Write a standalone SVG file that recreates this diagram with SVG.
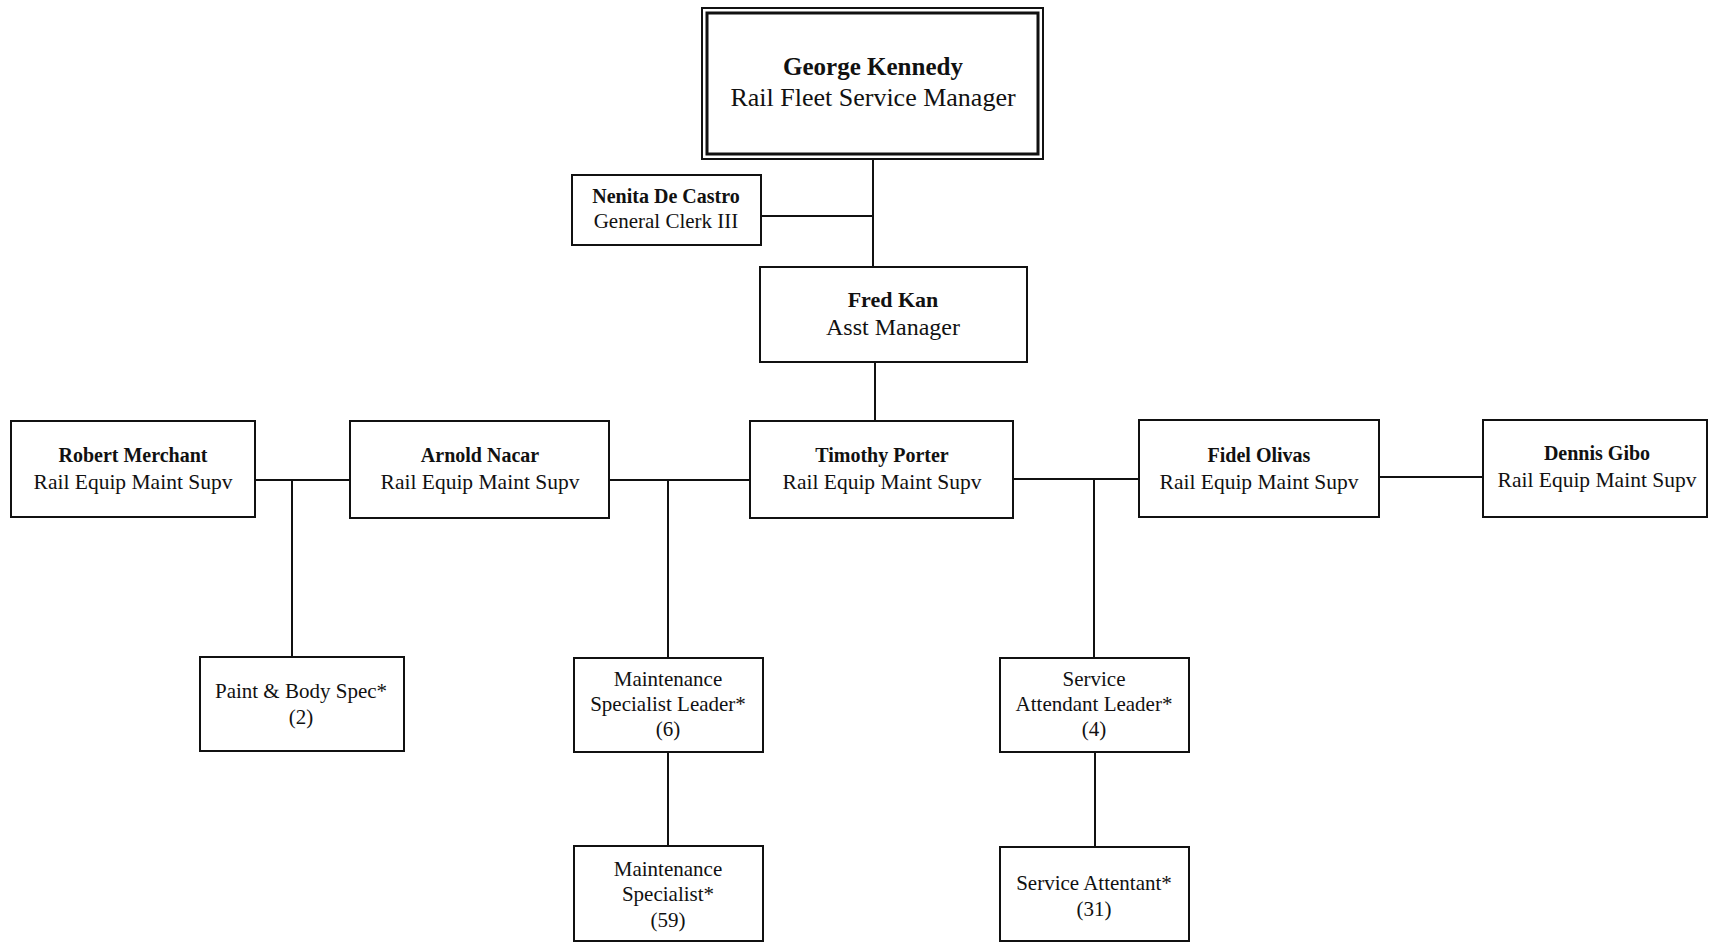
<svg xmlns="http://www.w3.org/2000/svg" width="1709" height="943" viewBox="0 0 1709 943">
<style>
.box{fill:#fff;stroke:#111;stroke-width:2}
.n{font-family:"Liberation Serif",serif;font-weight:bold;font-size:20px;fill:#111;text-anchor:middle}
.t{font-family:"Liberation Serif",serif;font-size:21.5px;fill:#111;text-anchor:middle}
.c{fill:none;stroke:#111;stroke-width:2}
</style>
<rect width="1709" height="943" fill="#fff"/>
<g id="connectors">
<path class="c" d="M873 159V267M761 216H873M875 362V421"/>
<path class="c" d="M255 480H350M292 480V657"/>
<path class="c" d="M609 480H750M668 480V658"/>
<path class="c" d="M1013 479H1139M1094 479V658"/>
<path class="c" d="M1379 477H1483"/>
<path class="c" d="M668 752V846M1095 752V847"/>
</g>
<g id="george">
<rect x="702" y="8" width="341" height="151" fill="#fff" stroke="#111" stroke-width="2"/>
<rect x="707" y="13" width="331" height="141" fill="none" stroke="#111" stroke-width="3"/>
<text class="n" x="873" y="75" style="font-size:25px">George Kennedy</text>
<text class="t" x="873" y="106" style="font-size:26px">Rail Fleet Service Manager</text>
</g>
<g id="nenita">
<rect class="box" x="572" y="175" width="189" height="70"/>
<text class="n" x="666" y="203">Nenita De Castro</text>
<text class="t" x="666" y="228" style="font-size:21px">General Clerk III</text>
</g>
<g id="fred">
<rect class="box" x="760" y="267" width="267" height="95"/>
<text class="n" x="893" y="307" style="font-size:22px">Fred Kan</text>
<text class="t" x="893" y="335" style="font-size:24px">Asst Manager</text>
</g>
<g id="robert">
<rect class="box" x="11" y="421" width="244" height="96"/>
<text class="n" x="133" y="462">Robert Merchant</text>
<text class="t" x="133" y="489">Rail Equip Maint Supv</text>
</g>
<g id="arnold">
<rect class="box" x="350" y="421" width="259" height="97"/>
<text class="n" x="480" y="462">Arnold Nacar</text>
<text class="t" x="480" y="489">Rail Equip Maint Supv</text>
</g>
<g id="timothy">
<rect class="box" x="750" y="421" width="263" height="97"/>
<text class="n" x="882" y="462">Timothy Porter</text>
<text class="t" x="882" y="489">Rail Equip Maint Supv</text>
</g>
<g id="fidel">
<rect class="box" x="1139" y="420" width="240" height="97"/>
<text class="n" x="1259" y="462">Fidel Olivas</text>
<text class="t" x="1259" y="489">Rail Equip Maint Supv</text>
</g>
<g id="dennis">
<rect class="box" x="1483" y="420" width="224" height="97"/>
<text class="n" x="1597" y="460">Dennis Gibo</text>
<text class="t" x="1597" y="487">Rail Equip Maint Supv</text>
</g>
<g id="paint">
<rect class="box" x="200" y="657" width="204" height="94"/>
<text class="t" x="301" y="698" style="font-size:21px">Paint &amp; Body Spec*</text>
<text class="t" x="301" y="724" style="font-size:21px">(2)</text>
</g>
<g id="msl">
<rect class="box" x="574" y="658" width="189" height="94"/>
<text class="t" x="668" y="686" style="font-size:21px">Maintenance</text>
<text class="t" x="668" y="711" style="font-size:21px">Specialist Leader*</text>
<text class="t" x="668" y="736" style="font-size:21px">(6)</text>
</g>
<g id="sal">
<rect class="box" x="1000" y="658" width="189" height="94"/>
<text class="t" x="1094" y="686" style="font-size:21px">Service</text>
<text class="t" x="1094" y="711" style="font-size:21px">Attendant Leader*</text>
<text class="t" x="1094" y="736" style="font-size:21px">(4)</text>
</g>
<g id="ms">
<rect class="box" x="574" y="846" width="189" height="95"/>
<text class="t" x="668" y="876" style="font-size:21px">Maintenance</text>
<text class="t" x="668" y="901" style="font-size:21px">Specialist*</text>
<text class="t" x="668" y="927" style="font-size:21px">(59)</text>
</g>
<g id="sa">
<rect class="box" x="1000" y="847" width="189" height="94"/>
<text class="t" x="1094" y="890" style="font-size:21px">Service Attentant*</text>
<text class="t" x="1094" y="916" style="font-size:21px">(31)</text>
</g>
</svg>
